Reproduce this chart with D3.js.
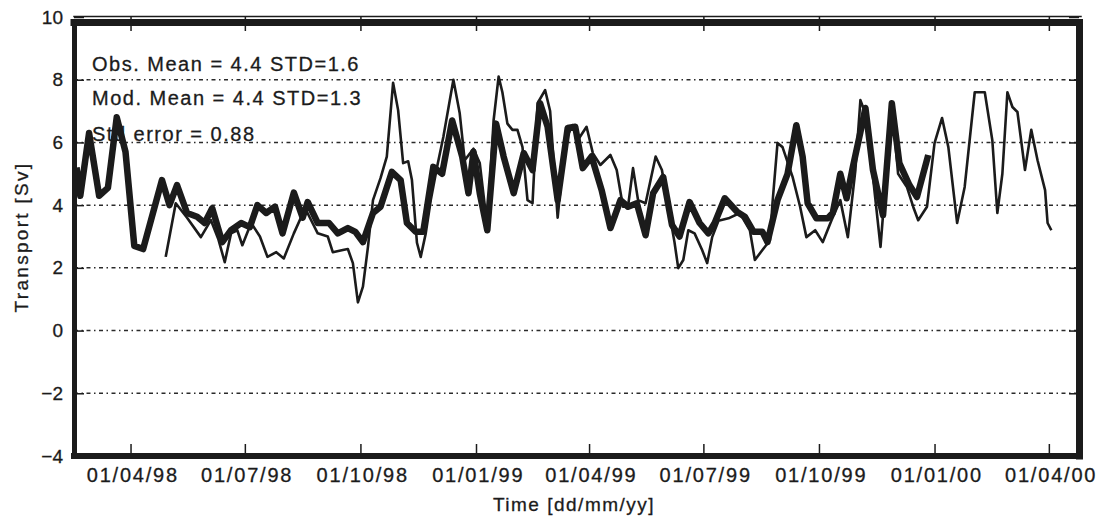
<!DOCTYPE html>
<html>
<head>
<meta charset="utf-8">
<script src="https://cdn.jsdelivr.net/npm/d3@7"></script>
<style>
body {margin: 0; background: #fff}
svg {font-family: "Liberation Sans", Arial, sans-serif; display: block}
</style>
</head>
<body>
<div id="canvas"></div>
<script>
// Data
var model_dates = ["1998-02-17","1998-02-20","1998-02-27","1998-03-07","1998-03-14","1998-03-21","1998-03-28","1998-04-04","1998-04-11","1998-04-26",
    "1998-05-02","1998-05-08","1998-05-16","1998-05-24","1998-05-30","1998-06-05","1998-06-13","1998-06-20","1998-06-28","1998-07-05",
    "1998-07-11","1998-07-18","1998-07-25","1998-07-31","1998-08-09","1998-08-16","1998-08-20","1998-08-28","1998-09-06","1998-09-13",
    "1998-09-21","1998-09-27","1998-10-03","1998-10-11","1998-10-17","1998-10-26","1998-11-02","1998-11-07","1998-11-14","1998-11-20",
    "1998-11-28","1998-12-05","1998-12-13","1998-12-21","1998-12-26","1998-12-30","1999-01-04","1999-01-10","1999-01-17","1999-01-23",
    "1999-01-31","1999-02-08","1999-02-15","1999-02-21","1999-02-27","1999-03-07","1999-03-15","1999-03-21","1999-03-27","1999-04-03",
    "1999-04-11","1999-04-18","1999-04-26","1999-05-02","1999-05-09","1999-05-16","1999-05-22","1999-05-30","1999-06-06","1999-06-12",
    "1999-06-20","1999-06-28","1999-07-05","1999-07-10","1999-07-18","1999-07-28","1999-08-03","1999-08-10","1999-08-17","1999-08-21",
    "1999-08-29","1999-09-06","1999-09-13","1999-09-18","1999-09-22","1999-09-29","1999-10-08","1999-10-12","1999-10-18","1999-10-23",
    "1999-10-28","1999-11-03","1999-11-07","1999-11-13","1999-11-21","1999-11-28","1999-12-04","1999-12-12","1999-12-18","1999-12-27"]
var model_values = [5.2,4.3,6.3,4.3,4.55,6.8,5.7,2.7,2.6,4.8,
    4.0,4.64,3.75,3.63,3.43,3.9,2.82,3.2,3.43,3.3,
    4.0,3.75,3.95,3.1,4.4,3.6,4.1,3.43,3.43,3.1,
    3.27,3.15,2.82,3.75,3.95,5.06,4.8,3.43,3.15,3.15,
    5.22,5.0,6.7,5.55,4.38,5.7,4.38,3.2,6.6,5.55,
    4.38,5.66,5.12,7.25,6.5,4.16,6.46,6.5,5.18,5.55,
    4.48,3.27,4.16,3.95,4.06,3.04,4.38,4.9,3.37,3.0,
    4.1,3.43,3.1,3.43,4.22,3.78,3.63,3.15,3.15,2.82,
    4.16,5.0,6.55,5.55,4.06,3.58,3.58,3.75,5.0,4.22,
    5.22,6.33,7.1,5.12,3.68,7.25,5.34,4.64,4.26,5.6]

var obs_dates = ["1998-04-29","1998-05-07","1998-05-16","1998-05-27","1998-06-04","1998-06-10","1998-06-15","1998-06-20","1998-06-25","1998-06-29",
    "1998-07-06","1998-07-13","1998-07-19","1998-07-26","1998-08-01","1998-08-09","1998-08-18","1998-08-28","1998-09-05","1998-09-09",
    "1998-09-17","1998-09-21","1998-09-25","1998-09-29","1998-10-03","1998-10-07","1998-10-11","1998-10-17","1998-10-22","1998-10-27",
    "1998-10-31","1998-11-04","1998-11-08","1998-11-11","1998-11-15","1998-11-18","1998-11-22","1998-11-26","1998-12-01","1998-12-06",
    "1998-12-14","1998-12-19","1998-12-23","1998-12-30","1999-01-04","1999-01-10","1999-01-15","1999-01-19","1999-01-22","1999-01-26",
    "1999-01-30","1999-02-03","1999-02-07","1999-02-11","1999-02-15","1999-02-19","1999-02-25","1999-03-01","1999-03-07","1999-03-13",
    "1999-03-19","1999-03-23","1999-03-30","1999-04-04","1999-04-10","1999-04-18","1999-04-23","1999-04-28","1999-05-02","1999-05-06",
    "1999-05-10","1999-05-16","1999-05-24","1999-05-29","1999-06-03","1999-06-08","1999-06-11","1999-06-15","1999-06-19","1999-06-24",
    "1999-06-30","1999-07-04","1999-07-08","1999-07-13","1999-07-21","1999-07-30","1999-08-07","1999-08-11","1999-08-17","1999-08-23",
    "1999-08-25","1999-08-29","1999-09-02","1999-09-10","1999-09-16","1999-09-21","1999-09-28","1999-10-04","1999-10-11","1999-10-18",
    "1999-10-24","1999-10-30","1999-11-03","1999-11-08","1999-11-13","1999-11-19","1999-11-24","1999-11-28","1999-12-03","1999-12-10",
    "1999-12-15","1999-12-19","1999-12-26","2000-01-01","2000-01-07","2000-01-12","2000-01-19","2000-01-25","2000-02-02","2000-02-10",
    "2000-02-16","2000-02-20","2000-02-24","2000-02-28","2000-03-03","2000-03-07","2000-03-13","2000-03-18","2000-03-23","2000-03-29",
    "2000-03-31","2000-04-03"]
var obs_values = [2.35,4.06,3.6,2.98,3.52,2.9,2.18,3.1,3.2,2.72,
    3.43,3.0,2.35,2.5,2.3,3.1,3.9,3.1,3.0,2.5,
    2.57,2.6,2.15,0.9,1.4,2.67,4.16,4.86,5.55,7.9,
    7.03,5.34,5.4,4.8,2.8,2.35,3.1,4.16,5.22,6.17,
    8.0,6.94,5.43,5.8,5.34,3.3,6.7,8.1,7.6,6.6,
    6.4,6.4,5.85,4.16,4.06,7.25,7.67,7.0,3.6,6.07,
    6.55,6.07,6.5,5.66,5.28,5.6,5.12,3.95,3.95,5.18,
    4.16,4.06,5.55,5.12,3.95,2.82,1.99,2.25,3.2,3.1,
    2.57,2.15,2.98,3.5,3.58,3.75,3.2,2.25,2.57,2.88,
    4.06,5.98,5.85,4.9,3.95,2.98,3.2,2.82,3.52,4.16,
    2.98,5.12,7.35,6.81,4.9,2.67,5.22,7.25,5.0,4.58,
    3.95,3.52,3.95,5.98,6.78,5.85,3.43,4.58,7.6,7.6,
    6.07,3.75,5.0,7.6,7.13,6.97,5.12,6.4,5.43,4.48,
    3.43,3.2]

var x_domain = ["1998-02-15", "2000-04-25"]
var y_domain = [-4, 10]
var y_ticks = [-4, -2, 0, 2, 4, 6, 8, 10]
var grid_values = [-2, 0, 2, 4, 6, 8]
var stats_lines = ["Obs. Mean = 4.4 STD=1.6", "Mod. Mean = 4.4 STD=1.3", "Std error = 0.88"]
var x_title = "Time [dd/mm/yy]"
var y_title = "Transport [Sv]"

// Display variables
var total_width = 1099, total_height = 523
var margin = {top: 17, right: 20, bottom: 67, left: 74}
var width = total_width - margin.left - margin.right
var height = total_height - margin.top - margin.bottom
var ink = "#1b1b1b"

var parse = d3.timeParse("%Y-%m-%d")
var model = model_dates.map((d, i) => ({date: parse(d), value: model_values[i]}))
var obs = obs_dates.map((d, i) => ({date: parse(d), value: obs_values[i]}))

var svg_outer = d3.select("#canvas").append("svg").attr("width", total_width).attr("height", total_height)
svg_outer.append("rect").attr("width", total_width).attr("height", total_height).attr("fill", "#fff")
var svg = svg_outer.append("g").attr("transform", "translate(" + margin.left + "," + margin.top + ")")

// Scales
var x = d3.scaleTime().domain(x_domain.map(parse)).range([0, width])
var y = d3.scaleLinear().domain(y_domain).range([height, 0])
var quarter_ticks = d3.timeMonth.every(3).range(parse("1998-04-01"), parse("2000-04-02"))

// Dash-dot grid lines
svg.append("g").selectAll("line")
    .data(grid_values)
    .enter().append("line")
    .attr("x1", 0).attr("x2", width)
    .attr("y1", d => y(d)).attr("y2", d => y(d))
    .attr("stroke", "#2a2a2a")
    .attr("stroke-width", 1.5)
    .attr("stroke-dasharray", "4,3.5,1.5,3.5")

// Statistics text (lines are drawn over it)
svg.append("g").selectAll("text")
    .data(stats_lines)
    .enter().append("text")
    .attr("x", 18)
    .attr("y", (d, i) => [54, 88, 124][i])
    .attr("font-size", 20)
    .attr("letter-spacing", 1.5)
    .attr("fill", ink)
    .attr("stroke", ink).attr("stroke-width", 0.3)
    .text(d => d)

// Series
var line = d3.line().x(d => x(d.date)).y(d => y(d.value))
svg.append("path").datum(obs)
    .attr("d", line)
    .attr("fill", "none")
    .attr("stroke", ink)
    .attr("stroke-width", 2.6)
    .attr("stroke-linejoin", "round")
svg.append("path").datum(model)
    .attr("d", line)
    .attr("fill", "none")
    .attr("stroke", ink)
    .attr("stroke-width", 6.5)
    .attr("stroke-linejoin", "round")

// Axes: ticks point inwards on all four sides
var x_axis = svg.append("g")
    .attr("transform", "translate(0," + height + ")")
    .call(d3.axisBottom(x).tickValues(quarter_ticks).tickFormat(d3.timeFormat("%d/%m/%y"))
        .tickSizeInner(-12).tickSizeOuter(0).tickPadding(12))
x_axis.selectAll("text").attr("font-size", 20).attr("letter-spacing", 1.8).attr("dx", "0.09em")
svg.append("g")
    .call(d3.axisTop(x).tickValues(quarter_ticks).tickFormat("").tickSizeInner(-14).tickSizeOuter(0))
var y_axis = svg.append("g")
    .call(d3.axisLeft(y).tickValues(y_ticks).tickFormat(d3.format("d"))
        .tickSizeInner(-10).tickSizeOuter(0).tickPadding(11))
y_axis.selectAll("text").attr("font-size", 19)
svg.selectAll(".tick text").attr("fill", ink).attr("stroke", ink).attr("stroke-width", 0.3)
svg.append("g")
    .attr("transform", "translate(" + width + ",0)")
    .call(d3.axisRight(y).tickValues(y_ticks).tickFormat("").tickSizeInner(-10).tickSizeOuter(0))
svg.selectAll(".domain").remove()
svg.selectAll(".tick line").attr("stroke", ink).attr("stroke-width", 1.5)

// Heavy frame round the plot
var frame = svg.append("g").attr("stroke", ink).attr("stroke-linecap", "square")
frame.append("line").attr("x1", 0).attr("x2", width + 2).attr("y1", -0.5).attr("y2", -0.5).attr("stroke-width", 1.5)
frame.append("line").attr("x1", 0).attr("x2", width).attr("y1", 5.5).attr("y2", 5.5).attr("stroke-width", 7)
frame.append("line").attr("x1", 0.5).attr("x2", 0.5).attr("y1", 5.5).attr("y2", height).attr("stroke-width", 5)
frame.append("line").attr("x1", width + 0.5).attr("x2", width + 0.5).attr("y1", 5.5).attr("y2", height).attr("stroke-width", 7)
frame.append("line").attr("x1", 0).attr("x2", width).attr("y1", height).attr("y2", height).attr("stroke-width", 6)

// Axis titles
svg_outer.append("text")
    .attr("transform", "translate(28,237) rotate(-90)")
    .attr("text-anchor", "middle")
    .attr("font-size", 19)
    .attr("letter-spacing", 2.3)
    .attr("fill", ink)
    .attr("stroke", ink).attr("stroke-width", 0.3)
    .text(y_title)
svg_outer.append("text")
    .attr("x", 574).attr("y", 511)
    .attr("text-anchor", "middle")
    .attr("font-size", 19)
    .attr("letter-spacing", 1.5)
    .attr("fill", ink)
    .attr("stroke", ink).attr("stroke-width", 0.3)
    .text(x_title)
</script>
</body>
</html>
